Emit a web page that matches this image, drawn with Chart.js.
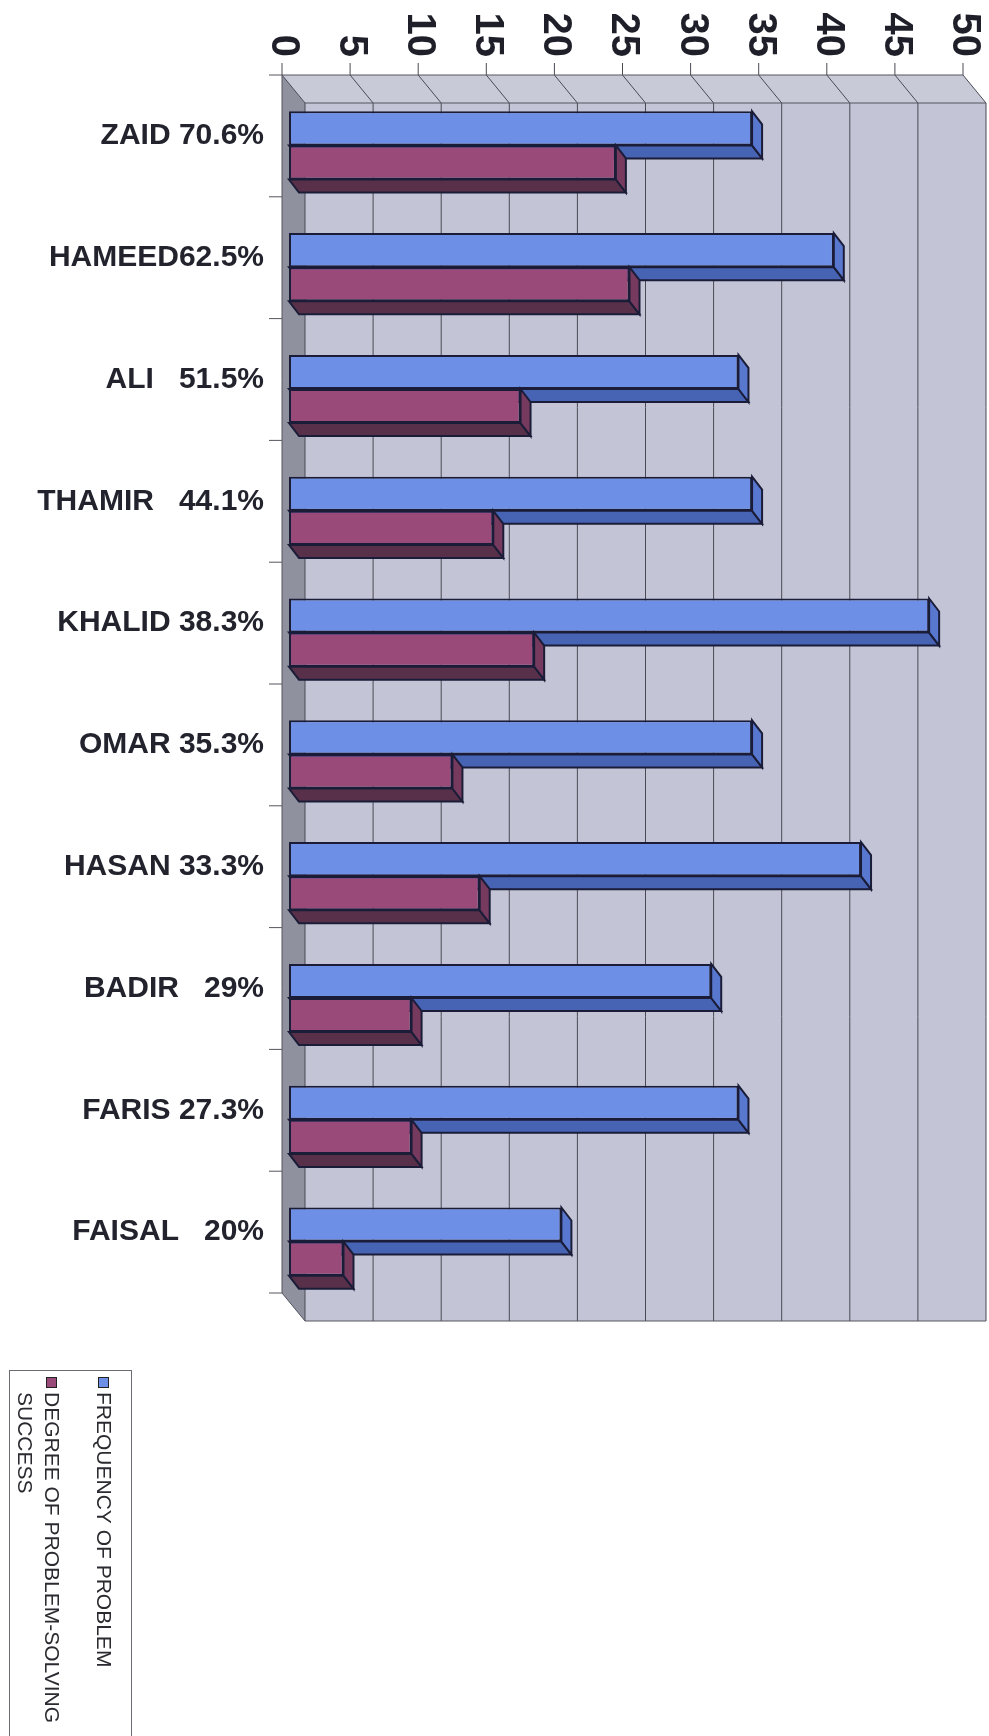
<!DOCTYPE html>
<html>
<head>
<meta charset="utf-8">
<script src="https://cdn.jsdelivr.net/npm/chart.js@4.4.1/dist/chart.umd.min.js"></script>
<style>
body { margin: 0; background: #fff; }
#wrap { width: 989px; height: 1736px; }
</style>
</head>
<body>
<div id="wrap"><canvas id="myChart" width="989" height="1736"></canvas></div>
<script>
// frequency of problem vs degree of problem-solving success, per student
var label = ['ZAID 70.6%', 'HAMEED62.5%', 'ALI   51.5%', 'THAMIR   44.1%', 'KHALID 38.3%',
             'OMAR 35.3%', 'HASAN 33.3%', 'BADIR   29%', 'FARIS 27.3%', 'FAISAL   20%'];
var frequency = [34, 40, 33, 34, 47, 34, 42, 31, 33, 20];
var success = [24, 25, 17, 15, 18, 12, 14, 9, 9, 4];
var tickValues = [0, 5, 10, 15, 20, 25, 30, 35, 40, 45, 50];
var seriesNames = [['FREQUENCY OF PROBLEM'], ['DEGREE OF PROBLEM-SOLVING', 'SUCCESS']];

var wall = { dx: 23, dy: 28 };   // box depth (front plane -> back wall)
var plane = { dx: 7, dy: 9.5 };  // bars sit a little behind the front plane
var depth = { dx: 10, dy: 13 };  // bar thickness in depth
var faces = [
    { side: '#5878d0', bottom: '#4663b4' },
    { side: '#763a5f', bottom: '#583049' }
];

function poly(ctx, pts, fill, stroke, lw) {
    ctx.beginPath();
    ctx.moveTo(pts[0][0], pts[0][1]);
    for (var i = 1; i < pts.length; i++) ctx.lineTo(pts[i][0], pts[i][1]);
    ctx.closePath();
    if (fill) { ctx.fillStyle = fill; ctx.fill(); }
    if (stroke) { ctx.strokeStyle = stroke; ctx.lineWidth = lw || 1; ctx.stroke(); }
}

function barFaces(chart, index) {
    var ctx = chart.ctx;
    var meta = chart.getDatasetMeta(index);
    var c = faces[index];
    meta.data.forEach(function (el) {
        var p = el.getProps(['x', 'y', 'base', 'height'], true);
        var l = Math.min(p.x, p.base), r = Math.max(p.x, p.base);
        var t = p.y - p.height / 2, b = p.y + p.height / 2;
        poly(ctx, [[l, b], [r, b], [r + depth.dx, b + depth.dy], [l + depth.dx, b + depth.dy]], c.bottom, '#1b1d38', 2);
        poly(ctx, [[r, t], [r + depth.dx, t + depth.dy], [r + depth.dx, b + depth.dy], [r, b]], c.side, '#1b1d38', 2);
    });
}

var box3d = {
    id: 'box3d',
    beforeDatasetsDraw: function (chart) {
        var ctx = chart.ctx, ca = chart.chartArea;
        var xs = chart.scales.x, ys = chart.scales.y;
        var L = ca.left - plane.dx, R = ca.right - plane.dx;
        var T = ca.top - plane.dy, B = ca.bottom - plane.dy;
        ctx.save();
        // back wall
        poly(ctx, [[L + wall.dx, T + wall.dy], [R + wall.dx, T + wall.dy], [R + wall.dx, B + wall.dy], [L + wall.dx, B + wall.dy]], '#c3c5d6');
        // top strip
        poly(ctx, [[L, T], [R, T], [R + wall.dx, T + wall.dy], [L + wall.dx, T + wall.dy]], '#c9cad8');
        // left wall
        poly(ctx, [[L, T], [L + wall.dx, T + wall.dy], [L + wall.dx, B + wall.dy], [L, B]], '#8f919f');
        // grid lines
        ctx.strokeStyle = '#4a4a55';
        ctx.lineWidth = 1;
        tickValues.forEach(function (v) {
            var fx = xs.getPixelForValue(v) - plane.dx;
            ctx.beginPath();
            ctx.moveTo(fx, T);
            ctx.lineTo(fx + wall.dx, T + wall.dy);
            ctx.lineTo(fx + wall.dx, B + wall.dy);
            ctx.stroke();
            // tick mark above the box
            ctx.beginPath();
            ctx.moveTo(fx, T - 12);
            ctx.lineTo(fx, T);
            ctx.stroke();
        });
        // box outline
        ctx.strokeStyle = '#55555f';
        ctx.beginPath();
        ctx.moveTo(L - 13, T); ctx.lineTo(R, T);
        ctx.moveTo(L, T); ctx.lineTo(L, B);
        ctx.lineTo(L + wall.dx, B + wall.dy); ctx.lineTo(R + wall.dx, B + wall.dy);
        ctx.moveTo(L + wall.dx, T + wall.dy); ctx.lineTo(R + wall.dx, T + wall.dy);
        ctx.stroke();
        // category ticks and labels
        var band = ys.getPixelForValue(1) - ys.getPixelForValue(0);
        for (var i = 0; i < label.length; i++) {
            var cy = ys.getPixelForValue(i) - plane.dy;
            ctx.beginPath();
            ctx.moveTo(L - 13, cy + band / 2);
            ctx.lineTo(L, cy + band / 2);
            ctx.stroke();
            ctx.fillStyle = '#23232e';
            ctx.font = 'bold 30px "Liberation Sans", Arial, sans-serif';
            ctx.textAlign = 'right';
            ctx.textBaseline = 'middle';
            ctx.fillText(label[i], L - 18, cy);
        }
        // value tick labels, rotated clockwise
        ctx.font = 'bold 40px "Liberation Sans", Arial, sans-serif';
        ctx.fillStyle = '#1f1f2a';
        tickValues.forEach(function (v) {
            var fx = xs.getPixelForValue(v) - plane.dx;
            ctx.save();
            ctx.translate(fx + 1, T - 18);
            ctx.rotate(Math.PI / 2);
            ctx.textAlign = 'right';
            ctx.textBaseline = 'middle';
            ctx.fillText(String(v), 0, 0);
            ctx.restore();
        });
        ctx.restore();
        barFaces(chart, 0);
    },
    afterDatasetsDraw: function (chart) {
        barFaces(chart, 1);
    },
    afterDraw: function (chart) {
        var ctx = chart.ctx;
        var colors = [chart.data.datasets[0].backgroundColor, chart.data.datasets[1].backgroundColor];
        ctx.save();
        ctx.strokeStyle = '#6a6a70';
        ctx.lineWidth = 1;
        ctx.strokeRect(9.5, 1370.5, 122, 380);
        var cols = [103, 51];
        ctx.font = '21px "Liberation Sans", Arial, sans-serif';
        seriesNames.forEach(function (lines, k) {
            var cx = cols[k];
            ctx.fillStyle = colors[k];
            ctx.fillRect(cx - 5, 1377, 11, 11);
            ctx.strokeStyle = '#222';
            ctx.strokeRect(cx - 4.5, 1377.5, 10, 10);
            lines.forEach(function (txt, j) {
                ctx.save();
                ctx.translate(cx - j * 27, 1392);
                ctx.rotate(Math.PI / 2);
                ctx.fillStyle = '#2a2a30';
                ctx.textAlign = 'left';
                ctx.textBaseline = 'middle';
                ctx.fillText(txt, 0, 0);
                ctx.restore();
            });
        });
        ctx.restore();
    }
};

var ctx = document.getElementById('myChart').getContext('2d');
var myChart = new Chart(ctx, {
    type: 'bar',
    data: {
        labels: label,
        datasets: [{
            label: seriesNames[0].join(' '),
            data: frequency,
            backgroundColor: '#6d8fe6',
            borderColor: '#1b1d38',
            borderWidth: 2,
            borderSkipped: false,
            categoryPercentage: 0.56,
            barPercentage: 1
        }, {
            label: seriesNames[1].join(' '),
            data: success,
            backgroundColor: '#9a4a78',
            borderColor: '#1b1d38',
            borderWidth: 2,
            borderSkipped: false,
            categoryPercentage: 0.56,
            barPercentage: 1
        }]
    },
    options: {
        indexAxis: 'y',
        responsive: false,
        animation: false,
        events: [],
        layout: { padding: { left: 289, right: 19, top: 84.5, bottom: 433.5 } },
        scales: {
            x: { type: 'linear', min: 0, max: 50, display: false },
            y: { type: 'category', display: false, offset: true }
        },
        plugins: {
            legend: { display: false },
            tooltip: { enabled: false }
        }
    },
    plugins: [box3d]
});
</script>
</body>
</html>
